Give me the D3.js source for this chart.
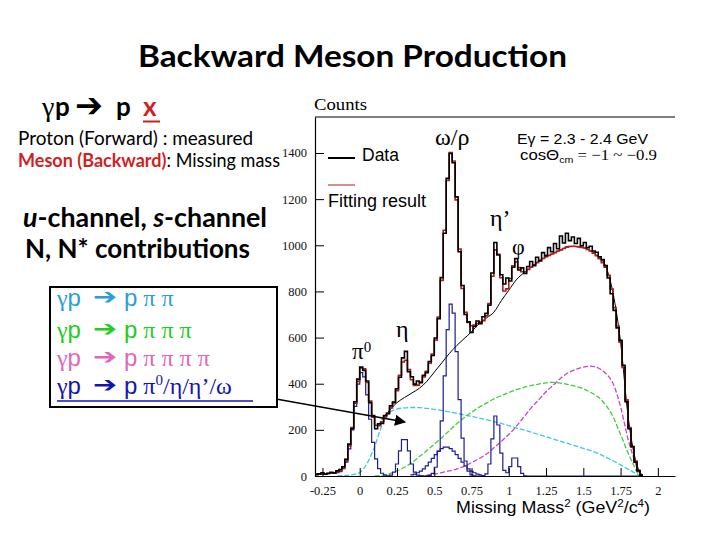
<!DOCTYPE html>
<html><head><meta charset="utf-8">
<script src="https://cdn.jsdelivr.net/npm/d3@7"></script>
<style>body{margin:0;background:#fff}svg{display:block}</style>
</head><body>
<svg id="c" width="720" height="540"></svg>
<script>
// ---------------- data ----------------
const binStart = -0.30, binWidth = 0.02;   // histogram binning (110 bins)
const dataCounts = [
  6, 9, 14, 8, 12, 16, 13, 22, 28, 40,
  72, 138, 205, 322, 420, 472, 458, 412, 318, 262,
  205, 226, 228, 262, 270, 304, 318, 378, 428, 512,
  540, 452, 430, 398, 412, 404, 436, 448, 496, 522,
  598, 682, 860, 1052, 1290, 1398, 1358, 1210, 972, 826,
  700, 668, 622, 648, 672, 660, 690, 705, 740, 880,
  1012, 958, 872, 832, 858, 845, 905, 942, 893, 902,
  878, 908, 930, 912, 948, 932, 968, 955, 990, 972,
  1008, 985, 1040, 1010, 1052, 1020, 1036, 1008, 1030, 998,
  1012, 990, 996, 975, 970, 950, 938, 912, 858, 790,
  718, 642, 588, 480, 322, 205, 128, 60, 22, 4];
const fitCounts = [
  8, 9, 10, 10, 11, 12, 14, 17, 22, 35,
  65, 130, 210, 315, 410, 468, 465, 405, 325, 255,
  220, 218, 235, 256, 274, 295, 322, 370, 437, 494,
  502, 461, 417, 393, 394, 407, 429, 454, 489, 529,
  589, 689, 848, 1065, 1281, 1402, 1365, 1197, 984, 813,
  710, 665, 651, 654, 661, 668, 673, 694, 747, 866,
  980, 961, 859, 802, 811, 856, 911, 928, 903, 885,
  885, 895, 905, 915, 925, 935, 943, 950, 956, 962,
  968, 975, 980, 986, 992, 995, 996, 995, 993, 991,
  988, 982, 975, 966, 955, 942, 925, 905, 870, 810,
  730, 650, 580, 470, 330, 210, 125, 65, 25, 5];
// pi0 / eta / omega / eta' / phi peaks (blue)
const peakCounts = [
  8, 9, 10, 9, 10, 11, 12, 14, 19, 32,
  60, 118, 200, 302, 398, 448, 430, 352, 246, 146,
  74, 32, 12, 4, 1, 4, 17, 52, 109, 158,
  158, 109, 52, 17, 4, 1, 0, 1, 3, 11,
  38, 107, 239, 434, 634, 745, 706, 539, 331, 164,
  65, 21, 5, 1, 0, 0, 2, 9, 52, 161,
  260, 221, 99, 24, 14, 41, 78, 78, 41, 11,
  1, 0, 0, 0, 0, 0, 0, 0, 0, 0,
  0, 0, 0, 0, 0, 0, 0, 0, 0, 0,
  0, 0, 0, 0, 0, 0, 0, 0, 0, 0,
  0, 0, 0, 0, 0, 0, 0, 0, 0, 0];
// broad rho component (blue)
const rhoStart = 0.34;
const rhoCounts = [5, 8, 14, 21, 31, 44, 60, 76, 93, 108, 119, 125, 125, 119, 108, 93, 76, 60, 44, 31, 21, 14, 8, 5];
// gamma p -> p pi pi (cyan)
const twoPiMass = [-0.15,-0.10,-0.05,0,0.05,0.10,0.15,0.20,0.25,0.30,0.35,0.40,0.45,0.50,0.55,0.60,0.65,0.70,0.75,0.80,0.85,0.90,0.95,1.00,1.05,1.10,1.15,1.20,1.25,1.30,1.35,1.40,1.45,1.50,1.55,1.60,1.65,1.70,1.75,1.80,1.85,1.88];
const twoPiCounts = [0,2,6,15,55,128,220,275,290,295,297,296,293,289,284,278,272,265,258,251,244,236,228,218,208,200,190,180,170,160,150,140,130,120,110,98,82,66,48,30,12,0];
// gamma p -> p pi pi pi (green)
const threePiMass = [0.10,0.15,0.20,0.25,0.30,0.35,0.40,0.45,0.50,0.55,0.60,0.65,0.70,0.75,0.80,0.85,0.90,0.95,1.00,1.05,1.10,1.15,1.20,1.25,1.30,1.35,1.40,1.45,1.50,1.55,1.60,1.65,1.70,1.75,1.80,1.85,1.87];
const threePiCounts = [0,3,10,22,38,58,84,110,138,166,196,226,252,276,298,316,334,348,362,374,384,392,398,404,406,402,396,388,378,362,342,308,256,180,100,30,3];
// gamma p -> p pi pi pi pi (magenta)
const fourPiMass = [0.40,0.45,0.50,0.55,0.60,0.65,0.70,0.75,0.80,0.85,0.90,0.95,1.00,1.05,1.10,1.15,1.20,1.25,1.30,1.35,1.40,1.45,1.50,1.55,1.60,1.65,1.70,1.75,1.80,1.85,1.87];
const fourPiCounts = [0,3,8,15,22,30,42,58,75,95,122,150,180,215,255,295,330,365,395,425,448,462,472,476,468,445,400,300,160,55,15];
// summed background (thin black)
const bgMass = [0.15,0.20,0.25,0.30,0.35,0.40,0.45,0.50,0.55,0.60,0.65,0.70,0.75,0.80,0.85,0.90,0.95,1.00,1.05,1.10,1.15,1.20,1.25,1.30,1.35,1.40,1.45,1.50,1.55,1.60,1.65,1.70,1.75,1.80,1.85,1.90];
const bgCounts = [245,285,318,340,360,380,410,450,490,530,565,595,625,660,685,710,760,805,850,880,905,930,950,965,980,995,995,990,975,950,910,790,580,260,70,0];
// axis ticks
const xTickValues = [-0.25, 0, 0.25, 0.5, 0.75, 1, 1.25, 1.5, 1.75, 2];
const yTickValues = [0, 200, 400, 600, 800, 1000, 1200, 1400];

// ---------------- drawing ----------------
const svg = d3.select("#c");
const x = d3.scaleLinear().domain([-0.3, 2.115]).range([315, 675]);
const y = d3.scaleLinear().domain([0, 1556]).range([476, 117]);

function hist(start, width, counts) {
  const pts = counts.map((c, i) => [start + i * width, c]);
  pts.push([start + counts.length * width, counts[counts.length - 1]]);
  return pts;
}
const stepLine = d3.line().x(d => x(d[0])).y(d => y(d[1])).curve(d3.curveStepAfter);
const smooth = d3.line().x(d => x(d[0])).y(d => y(d[1])).curve(d3.curveMonotoneX);
const zip = (a, b) => a.map((v, i) => [v, b[i]]);

const plot = svg.append("g");
plot.append("path").attr("d", smooth(zip(twoPiMass, twoPiCounts)))
  .attr("fill", "none").attr("stroke", "#3cc9dc").attr("stroke-width", 1.3).attr("stroke-dasharray", "5,2");
plot.append("path").attr("d", smooth(zip(threePiMass, threePiCounts)))
  .attr("fill", "none").attr("stroke", "#3ccf3c").attr("stroke-width", 1.3).attr("stroke-dasharray", "5,2");
plot.append("path").attr("d", smooth(zip(fourPiMass, fourPiCounts)))
  .attr("fill", "none").attr("stroke", "#c844c8").attr("stroke-width", 1.3).attr("stroke-dasharray", "5,2");
plot.append("path").attr("d", stepLine(hist(binStart, binWidth, peakCounts)))
  .attr("fill", "none").attr("stroke", "#1c1c98").attr("stroke-width", 1.2);
plot.append("path").attr("d", stepLine(hist(rhoStart, binWidth, rhoCounts)))
  .attr("fill", "none").attr("stroke", "#1c1c98").attr("stroke-width", 1.2);
plot.append("path").attr("d", smooth(zip(bgMass, bgCounts)))
  .attr("fill", "none").attr("stroke", "#000").attr("stroke-width", 1);
plot.append("path").attr("d", stepLine(hist(binStart, binWidth, fitCounts)))
  .attr("fill", "none").attr("stroke", "#b01c1c").attr("stroke-width", 1.6);
plot.append("path").attr("d", stepLine(hist(binStart, binWidth, dataCounts)))
  .attr("fill", "none").attr("stroke", "#000").attr("stroke-width", 1.6);

// axes
const axFont = "Liberation Serif, Times New Roman, serif";
const gy = svg.append("g").attr("transform", `translate(${x(-0.3)},0)`);
gy.call(d3.axisLeft(y).tickValues(d3.range(0, 1551, 50)).tickSize(-4).tickSizeOuter(0).tickFormat(""));
gy.call(d3.axisLeft(y).tickValues(yTickValues).tickSize(-9).tickSizeOuter(0).tickPadding(8).tickFormat(d => String(d)));
gy.selectAll("text").attr("font-family", axFont).attr("font-size", 12.5).attr("fill", "#111");
const gx = svg.append("g").attr("transform", `translate(0,${y(0)})`);
gx.call(d3.axisBottom(x).tickValues(d3.range(-0.3, 2.11, 0.05)).tickSize(-4).tickSizeOuter(0).tickFormat(""));
gx.call(d3.axisBottom(x).tickValues(xTickValues).tickSize(-8).tickSizeOuter(0).tickPadding(10).tickFormat(d => String(d)));
gx.selectAll("text").attr("font-family", axFont).attr("font-size", 12.5).attr("fill", "#111");
svg.selectAll(".domain").attr("stroke", "#000").attr("stroke-width", 1.2);
svg.append("line").attr("x1", x(-0.3)).attr("x2", x(2.115)).attr("y1", y(1556)).attr("y2", y(1556))
  .attr("stroke", "#000").attr("stroke-width", 1.2);

svg.append("text").attr("x", 314).attr("y", 110).attr("font-family", axFont).attr("font-size", 17)
  .attr("textLength", 53).attr("lengthAdjust", "spacingAndGlyphs").text("Counts");

const sans = "Liberation Sans, Arial, sans-serif";
// legend
svg.append("line").attr("x1", 328).attr("x2", 355).attr("y1", 158).attr("y2", 158).attr("stroke", "#000").attr("stroke-width", 2);
svg.append("text").attr("x", 362).attr("y", 161).attr("font-family", sans).attr("font-size", 17.5).text("Data");
svg.append("line").attr("x1", 328).attr("x2", 355).attr("y1", 185).attr("y2", 185).attr("stroke", "#b01c1c").attr("stroke-width", 1);
svg.append("text").attr("x", 328).attr("y", 207).attr("font-family", sans).attr("font-size", 17.5)
  .attr("textLength", 98).attr("lengthAdjust", "spacingAndGlyphs").text("Fitting result");

// annotations
svg.append("text").attr("x", 435).attr("y", 145).attr("font-family", axFont).attr("font-size", 24).text("ω/ρ");
svg.append("text").attr("x", 517).attr("y", 144).attr("font-family", sans).attr("font-size", 15)
  .attr("textLength", 131).attr("lengthAdjust", "spacingAndGlyphs").text("Eγ = 2.3 - 2.4 GeV");
const cosT = svg.append("text").attr("x", 520).attr("y", 160).attr("font-family", sans).attr("font-size", 15)
  .attr("textLength", 137).attr("lengthAdjust", "spacingAndGlyphs");
cosT.append("tspan").text("cosΘ");
cosT.append("tspan").attr("font-size", 9.5).attr("dy", 3).text("cm");
cosT.append("tspan").attr("dy", -3).attr("font-family", axFont).text(" = −1 ~ −0.9");
svg.append("text").attr("x", 490).attr("y", 226).attr("font-family", axFont).attr("font-size", 24).text("η’");
svg.append("text").attr("x", 512).attr("y", 254).attr("font-family", axFont).attr("font-size", 22).text("φ");
const pi0 = svg.append("text").attr("x", 352).attr("y", 359).attr("font-family", axFont).attr("font-size", 23);
pi0.append("tspan").text("π");
pi0.append("tspan").attr("font-size", 15).attr("dy", -7).text("0");
svg.append("text").attr("x", 396).attr("y", 337).attr("font-family", axFont).attr("font-size", 24).text("η");
const xt = svg.append("text").attr("x", 456).attr("y", 513).attr("font-family", sans).attr("font-size", 17)
  .attr("textLength", 194).attr("lengthAdjust", "spacingAndGlyphs");
xt.append("tspan").text("Missing Mass");
xt.append("tspan").attr("font-size", 11).attr("dy", -6).text("2");
xt.append("tspan").attr("dy", 6).text(" (GeV");
xt.append("tspan").attr("font-size", 11).attr("dy", -6).text("2");
xt.append("tspan").attr("dy", 6).text("/c");
xt.append("tspan").attr("font-size", 11).attr("dy", -6).text("4");
xt.append("tspan").attr("dy", 6).text(")");

// ---------------- slide text ----------------
const cal = "Lato, Open Sans, sans-serif";
const arrowFont = "DejaVu Sans, sans-serif";
svg.append("text").attr("x", 138).attr("y", 67).attr("font-family", cal).attr("font-weight", "bold")
  .attr("font-size", 30).attr("textLength", 429).attr("lengthAdjust", "spacingAndGlyphs").text("Backward Meson Production");

// gamma p -> p x
svg.append("text").attr("x", 42).attr("y", 116).attr("font-family", axFont).attr("font-size", 28).text("γ");
svg.append("text").attr("x", 55).attr("y", 116).attr("font-family", cal).attr("font-weight", "bold").attr("font-size", 26).text("p");
svg.append("text").attr("x", 75).attr("y", 117).attr("font-family", arrowFont).attr("font-weight", "bold")
  .attr("font-size", 34).attr("textLength", 28).attr("lengthAdjust", "spacingAndGlyphs").text("➔");
svg.append("text").attr("x", 116).attr("y", 116).attr("font-family", cal).attr("font-weight", "bold").attr("font-size", 26).text("p");
svg.append("text").attr("x", 143).attr("y", 116).attr("font-family", cal).attr("font-weight", "bold").attr("font-size", 26)
  .attr("fill", "#d11f1f").text("x");
svg.append("line").attr("x1", 143).attr("x2", 160).attr("y1", 121.5).attr("y2", 121.5).attr("stroke", "#d11f1f").attr("stroke-width", 2);

svg.append("text").attr("x", 18).attr("y", 145).attr("font-family", cal).attr("font-size", 18.5)
  .attr("textLength", 235).attr("lengthAdjust", "spacingAndGlyphs").text("Proton (Forward) : measured");
const mes = svg.append("text").attr("x", 18).attr("y", 167).attr("font-family", cal).attr("font-size", 18.5)
  .attr("textLength", 262).attr("lengthAdjust", "spacingAndGlyphs");
mes.append("tspan").attr("fill", "#d11f1f").attr("font-weight", "bold").text("Meson (Backward)");
mes.append("tspan").text(": Missing mass");

const uch = svg.append("text").attr("x", 23).attr("y", 227).attr("font-family", cal).attr("font-weight", "bold")
  .attr("font-size", 26).attr("textLength", 244).attr("lengthAdjust", "spacingAndGlyphs");
uch.append("tspan").attr("font-style", "italic").text("u");
uch.append("tspan").text("-channel,  ");
uch.append("tspan").attr("font-style", "italic").text("s");
uch.append("tspan").text("-channel");
svg.append("text").attr("x", 25).attr("y", 258).attr("font-family", cal).attr("font-weight", "bold")
  .attr("font-size", 26).attr("textLength", 225).attr("lengthAdjust", "spacingAndGlyphs").text("N, N* contributions");

// box of channels
svg.append("rect").attr("x", 50).attr("y", 287).attr("width", 227).attr("height", 120)
  .attr("fill", "none").attr("stroke", "#000").attr("stroke-width", 2);
const channels = [
  {color: "#2a9fd6", rest: ["p", " π π"], base: 306},
  {color: "#22cc22", rest: ["p", " π π π"], base: 338},
  {color: "#e066b8", rest: ["p", " π π π π"], base: 366},
  {color: "#1414b0", rest: ["p", " π"], base: 394, tail: true}
];
channels.forEach(ch => {
  const t = svg.append("text").attr("y", ch.base).attr("font-size", 24).attr("fill", ch.color);
  t.append("tspan").attr("x", 57).attr("font-family", axFont).text("γ");
  t.append("tspan").attr("font-family", sans).text("p");
  svg.append("text").attr("x", 93).attr("y", ch.base - 2).attr("font-family", arrowFont).attr("font-weight", "bold")
    .attr("font-size", 22).attr("fill", ch.color).attr("textLength", 24).attr("lengthAdjust", "spacingAndGlyphs").text("➔");
  const r = svg.append("text").attr("x", 124).attr("y", ch.base).attr("font-size", 24).attr("fill", ch.color);
  r.append("tspan").attr("font-family", sans).text(ch.rest[0]);
  r.append("tspan").attr("font-family", axFont).text(ch.rest[1]);
  if (ch.tail) {
    r.append("tspan").attr("font-family", axFont).attr("font-size", 15).attr("dy", -9).text("0");
    r.append("tspan").attr("font-family", axFont).attr("dy", 9).text("/η/η’/ω");
    svg.append("line").attr("x1", 57).attr("x2", 253).attr("y1", 401).attr("y2", 401).attr("stroke", ch.color).attr("stroke-width", 1.6);
  }
});

// pointer arrow
svg.append("defs").append("marker").attr("id", "ah").attr("viewBox", "0 0 10 10").attr("refX", 9).attr("refY", 5)
  .attr("markerWidth", 7).attr("markerHeight", 7).attr("orient", "auto")
  .append("path").attr("d", "M0,0 L10,5 L0,10 z").attr("fill", "#000");
svg.append("line").attr("x1", 276).attr("y1", 399).attr("x2", 405).attr("y2", 422)
  .attr("stroke", "#000").attr("stroke-width", 1.6).attr("marker-end", "url(#ah)");
</script>
</body></html>
